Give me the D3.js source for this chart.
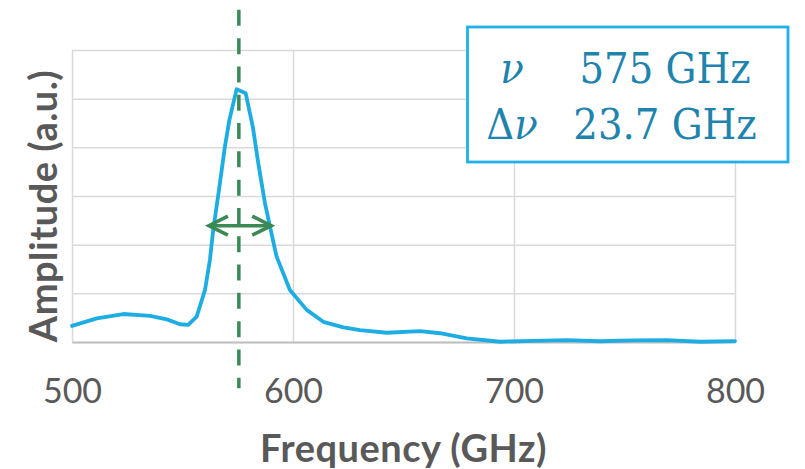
<!DOCTYPE html>
<html>
<head>
<meta charset="utf-8">
<script src="https://cdn.jsdelivr.net/npm/d3@7"></script>
<style>
  html, body { margin: 0; padding: 0; background: #fff; }
  svg { display: block; }
</style>
</head>
<body>
<svg id="chart" width="805" height="469"></svg>
<script>
// ---- data ----
const freq = [500, 511.2, 523.2, 535.3, 542.9, 548.9, 552.6, 556.4, 560.2, 562.4, 563.9, 566.5, 569.2, 571.2, 574.5, 578.6, 581.8, 584.3, 587.3, 589.6, 591.9, 592.6, 598.6, 606.2, 613.7, 622.8, 630.3, 642.4, 657.5, 666.5, 678.6, 693.7, 708.7, 723.8, 738.9, 754, 769, 784.2, 800];
const amplitude = [0.066, 0.097, 0.115, 0.107, 0.093, 0.073, 0.070, 0.104, 0.214, 0.337, 0.460, 0.625, 0.803, 0.912, 1.039, 1.022, 0.885, 0.734, 0.571, 0.474, 0.378, 0.351, 0.214, 0.132, 0.083, 0.060, 0.049, 0.038, 0.045, 0.036, 0.015, 0.001, 0.005, 0.008, 0.003, 0.007, 0.008, 0.001, 0.004];
const xTicks = [500, 600, 700, 800];
const yGrid = [0, 0.2, 0.4, 0.6, 0.8, 1.0, 1.2];
const centerFreq = [575.5];
const centerLineSpan = [-0.19, 1.365];
const fwhmEnds = [561.5, 590.6];
const fwhmLevel = [0.478];
const legendSymbols = ["ν", "Δν"];
const legendValues = ["575 GHz", "23.7 GHz"];
const xTitle = "Frequency (GHz)";
const yTitle = "Amplitude (a.u.)";

// ---- layout ----
const svg = d3.select("#chart");
const plot = { left: 72, right: 735, top: 50, bottom: 342 };
const x = d3.scaleLinear().domain([500, 800]).range([plot.left, plot.right]);
const y = d3.scaleLinear().domain([0, 1.2]).range([plot.bottom, plot.top]);

const gridColor = "#d9d9d9";
const textGrey = "#595959";

// horizontal gridlines
svg.append("g")
  .attr("transform", `translate(${plot.left},0)`)
  .call(d3.axisLeft(y).tickValues(yGrid).tickSize(-(plot.right - plot.left)).tickFormat(""))
  .call(g => g.select(".domain").remove())
  .call(g => g.selectAll(".tick line").attr("stroke", gridColor).attr("stroke-width", 1.5));

// vertical gridlines
svg.append("g")
  .attr("transform", `translate(0,${plot.bottom})`)
  .call(d3.axisBottom(x).tickValues(xTicks).tickSize(-(plot.bottom - plot.top)).tickFormat(""))
  .call(g => g.select(".domain").remove())
  .call(g => g.selectAll(".tick line").attr("stroke", gridColor).attr("stroke-width", 1.5));

// x axis baseline and labels
const xAxis = svg.append("g")
  .attr("transform", `translate(0,${plot.bottom})`)
  .call(d3.axisBottom(x).tickValues(xTicks).tickSize(0).tickFormat(d3.format("d")));
xAxis.select(".domain").attr("stroke", "#bfbfbf").attr("stroke-width", 2);
xAxis.selectAll(".tick text")
  .attr("y", 61).attr("dy", null)
  .attr("fill", textGrey)
  .style("font-family", "Lato, sans-serif")
  .style("font-size", "34px");

// curve
const pts = freq.map((f, i) => [f, amplitude[i]]);
svg.append("path")
  .datum(pts)
  .attr("fill", "none")
  .attr("stroke", "#1eade3")
  .attr("stroke-width", 3.8)
  .attr("stroke-linejoin", "round")
  .attr("stroke-linecap", "round")
  .attr("d", d3.line().x(d => x(d[0])).y(d => y(d[1])));

// center dashed line
const green = "#3b8a55";
svg.append("line")
  .attr("x1", x(centerFreq[0])).attr("x2", x(centerFreq[0]))
  .attr("y1", y(centerLineSpan[1])).attr("y2", y(centerLineSpan[0]))
  .attr("stroke", green)
  .attr("stroke-width", 3.5)
  .attr("stroke-dasharray", "16,12.3");

// FWHM double arrow
const ay = y(fwhmLevel[0]);
const x0 = x(fwhmEnds[0]), x1 = x(fwhmEnds[1]);
const arrowG = svg.append("g")
  .attr("stroke", green).attr("stroke-width", 3.6)
  .attr("fill", "none").attr("stroke-linecap", "butt").attr("stroke-linejoin", "miter");
arrowG.append("line").attr("x1", x0 + 1).attr("x2", x1 - 1).attr("y1", ay).attr("y2", ay);
arrowG.append("path").attr("d", `M${x0 + 20},${ay - 9.5} L${x0 + 1},${ay} L${x0 + 20},${ay + 9.5}`);
arrowG.append("path").attr("d", `M${x1 - 20},${ay - 9.5} L${x1 - 1},${ay} L${x1 - 20},${ay + 9.5}`);

// axis titles
svg.append("text")
  .attr("x", (plot.left + plot.right) / 2).attr("y", 461.5)
  .attr("text-anchor", "middle")
  .attr("fill", textGrey)
  .style("font-family", "Lato, sans-serif")
  .style("font-weight", "bold")
  .style("font-size", "38px")
  .style("letter-spacing", "0.5px")
  .text(xTitle);

svg.append("text")
  .attr("transform", `translate(57,206) rotate(-90)`)
  .attr("text-anchor", "middle")
  .attr("fill", textGrey)
  .style("font-family", "Lato, sans-serif")
  .style("font-weight", "bold")
  .style("font-size", "38px")
  .style("letter-spacing", "0.5px")
  .text(yTitle);

// legend box
const lg = svg.append("g");
lg.append("rect")
  .attr("x", 467.5).attr("y", 27)
  .attr("width", 320.5).attr("height", 135)
  .attr("fill", "#fff")
  .attr("stroke", "#1eb0e6")
  .attr("stroke-width", 2.8);
const legendColor = "#1f84ad";
const legendFont = "'DejaVu Serif Condensed', 'DejaVu Serif', serif";
const rowsY = [83.3, 139.3];
legendSymbols.forEach((s, i) => {
  const t = lg.append("text")
    .attr("x", 512).attr("y", rowsY[i])
    .attr("text-anchor", "middle")
    .attr("fill", legendColor)
    .style("font-family", legendFont)
    .style("font-size", "43px");
  if (s.length > 1) {
    t.append("tspan").text(s.slice(0, 1));
    t.append("tspan").style("font-style", "italic").text(s.slice(1));
  } else {
    t.append("tspan").style("font-style", "italic").text(s);
  }
  lg.append("text")
    .attr("x", 665).attr("y", rowsY[i])
    .attr("text-anchor", "middle")
    .attr("fill", legendColor)
    .style("font-family", legendFont)
    .style("font-size", "43px")
    .text(legendValues[i]);
});
</script>
</body>
</html>
